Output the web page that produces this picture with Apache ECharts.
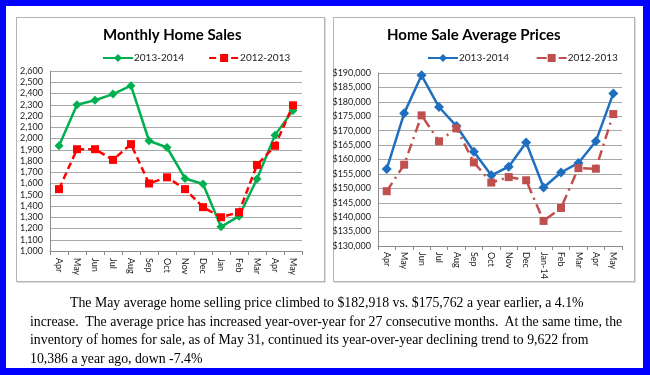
<!DOCTYPE html>
<html>
<head>
<meta charset="utf-8">
<script src="https://cdn.jsdelivr.net/npm/echarts@6/dist/echarts.min.js"></script>
<style>
  html, body { margin: 0; padding: 0; }
  body { width: 650px; height: 375px; position: relative; overflow: hidden; background: #0000ff; }
  #inner { position: absolute; left: 6px; top: 6px; width: 637px; height: 362px; background: #fff; }
  .box { position: absolute; border: 1px solid #b4b4b4; box-shadow: 1px 1px 0 #dcdcdc; background: #fff; }
  #box1 { left: 16px; top: 17px; width: 307px; height: 263px; }
  #box2 { left: 333px; top: 17px; width: 300px; height: 263px; }
  #chart { position: absolute; left: 0; top: 0; width: 650px; height: 375px; }
  #note {
    position: absolute; left: 30px; top: 294px; width: 610px;
    font-family: "Liberation Serif", serif; font-size: 13.8px; line-height: 18.5px;
    color: #000; white-space: pre;
  }
  #note .first { padding-left: 40px; }
</style>
</head>
<body>
<div id="inner"></div>
<div class="box" id="box1"></div>
<div class="box" id="box2"></div>
<div id="chart"></div>
<div id="note"><span class="first">The May average home selling price climbed to $182,918 vs. $175,762 a year earlier, a 4.1%</span>
increase.  The average price has increased year-over-year for 27 consecutive months.  At the same time, the
inventory of homes for sale, as of May 31, continued its year-over-year declining trend to 9,622 from
10,386 a year ago, down -7.4%</div>
<script>
// months (Apr 2013 - May 2014)
var salesMonths = ['Apr', 'May', 'Jun', 'Jul', 'Aug', 'Sep', 'Oct', 'Nov', 'Dec', 'Jan', 'Feb', 'Mar', 'Apr', 'May'];
var priceMonths = ['Apr', 'May', 'Jun', 'Jul', 'Aug', 'Sep', 'Oct', 'Nov', 'Dec', 'Jan-14', 'Feb', 'Mar', 'Apr', 'May'];

// monthly home sales
var sales1314 = [1935, 2300, 2340, 2395, 2470, 1980, 1920, 1645, 1595, 1215, 1310, 1640, 2030, 2250];
var sales1213 = [1550, 1905, 1905, 1810, 1950, 1600, 1655, 1550, 1390, 1300, 1345, 1765, 1935, 2295];

// average sale prices
var price1314 = [156700, 176000, 189200, 178200, 171600, 162700, 154500, 157500, 165900, 150300, 155500, 158800, 166300, 182918];
var price1213 = [149000, 158200, 175300, 166300, 170800, 159000, 152000, 153900, 152800, 138700, 143200, 157000, 156800, 175762];

var fontName = 'Lato';

function fmt(v) {
  return v.toString().replace(/\B(?=(\d{3})+(?!\d))/g, ',');
}

function xAxisOf(idx, data, margin) {
  return {
    type: 'category', gridIndex: idx, data: data, boundaryGap: true,
    axisLine: { lineStyle: { color: '#8c8c8c', width: 1 } },
    axisTick: { show: true, length: 4, lineStyle: { color: '#8c8c8c' } },
    axisLabel: { rotate: -90, margin: margin, interval: 0, fontSize: 9, color: '#222', fontFamily: fontName }
  };
}

function yAxisOf(idx, min, max, step, formatter) {
  return {
    type: 'value', gridIndex: idx, min: min, max: max, interval: step,
    axisLine: { show: true, lineStyle: { color: '#8c8c8c' } },
    axisTick: { show: false },
    splitLine: { lineStyle: { color: '#a8a8a8', width: 1 } },
    axisLabel: { fontSize: 9, color: '#222', margin: 7, fontFamily: fontName, formatter: formatter }
  };
}

var chart = echarts.init(document.getElementById('chart'), null, { renderer: 'canvas' });

chart.setOption({
  animation: false,
  backgroundColor: 'transparent',
  title: [
    { text: 'Monthly Home Sales', left: 98, top: 23, textStyle: { fontFamily: fontName, fontSize: 15, fontWeight: 'bold', color: '#000' } },
    { text: 'Home Sale Average Prices', left: 382, top: 23, textStyle: { fontFamily: fontName, fontSize: 15, fontWeight: 'bold', color: '#000' } }
  ],
  legend: [
    {
      left: 97, top: 48, itemWidth: 30, itemHeight: 10, itemGap: 24,
      textStyle: { fontFamily: fontName, fontSize: 10, color: '#222', padding: [0, 0, 0, -4] },
      data: ['2013-2014', '2012-2013']
    },
    {
      left: 422, top: 48, itemWidth: 30, itemHeight: 10, itemGap: 24,
      textStyle: { fontFamily: fontName, fontSize: 10, color: '#222', padding: [0, 0, 0, -4] },
      data: ['2013-2014 ', '2012-2013 ']
    }
  ],
  grid: [
    { left: 50, top: 71, width: 252, height: 180 },
    { left: 378, top: 73, width: 244, height: 173 }
  ],
  xAxis: [xAxisOf(0, salesMonths, 7), xAxisOf(1, priceMonths, 6)],
  yAxis: [
    yAxisOf(0, 1000, 2600, 100, function (v) { return fmt(v); }),
    yAxisOf(1, 130000, 190000, 5000, function (v) { return '$' + fmt(v); })
  ],
  series: [
    {
      name: '2013-2014', type: 'line', xAxisIndex: 0, yAxisIndex: 0, data: sales1314,
      symbol: 'diamond', symbolSize: 9, color: '#00b050',
      lineStyle: { width: 2.5, color: '#00b050' }, itemStyle: { color: '#00b050' }
    },
    {
      name: '2012-2013', type: 'line', xAxisIndex: 0, yAxisIndex: 0, data: sales1213,
      symbol: 'rect', symbolSize: 8, color: '#ff0000',
      lineStyle: { width: 2.5, color: '#ff0000', type: [7, 4] }, itemStyle: { color: '#ff0000' }
    },
    {
      name: '2013-2014 ', type: 'line', xAxisIndex: 1, yAxisIndex: 1, data: price1314,
      symbol: 'diamond', symbolSize: 10, color: '#1f6fc0',
      lineStyle: { width: 2.5, color: '#1f6fc0' }, itemStyle: { color: '#1f6fc0' }
    },
    {
      name: '2012-2013 ', type: 'line', xAxisIndex: 1, yAxisIndex: 1, data: price1213,
      symbol: 'rect', symbolSize: 8, color: '#c0504d',
      lineStyle: { width: 2.5, color: '#c0504d', type: [10, 5, 2, 5] }, itemStyle: { color: '#c0504d' }
    }
  ]
});
</script>
</body>
</html>
